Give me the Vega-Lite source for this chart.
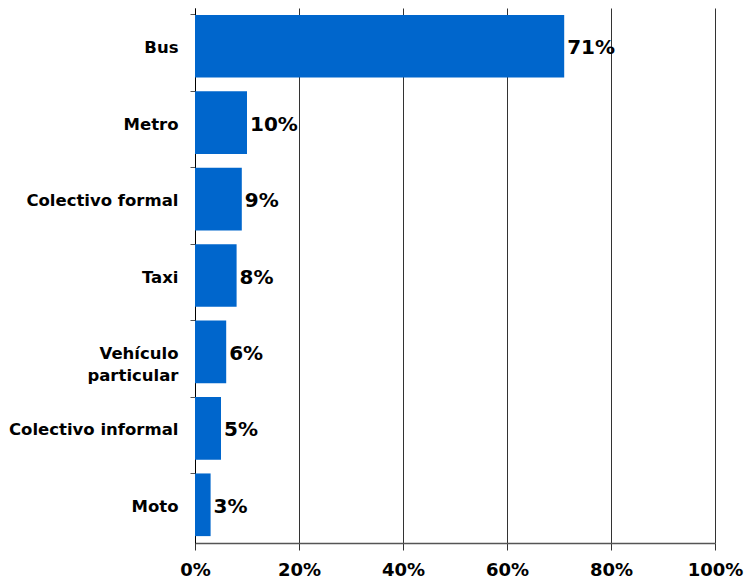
{
  "$schema": "https://vega.github.io/schema/vega-lite/v6.json",
  "autosize": "none",
  "width": 520,
  "height": 535,
  "padding": {"left": 195, "top": 8, "right": 29, "bottom": 39},
  "background": "white",
  "data": {"values": [
    {"modo": "Bus", "pct": 0.71, "label": "71%"},
    {"modo": "Metro", "pct": 0.10, "label": "10%"},
    {"modo": "Colectivo formal", "pct": 0.09, "label": "9%"},
    {"modo": "Taxi", "pct": 0.08, "label": "8%"},
    {"modo": "Vehículo particular", "pct": 0.06, "label": "6%"},
    {"modo": "Colectivo informal", "pct": 0.05, "label": "5%"},
    {"modo": "Moto", "pct": 0.03, "label": "3%"}
  ]},
  "config": {
    "view": {"stroke": null},
    "font": "DejaVu Sans"
  },
  "encoding": {
    "y": {
      "field": "modo", "type": "nominal", "sort": null,
      "scale": {"paddingInner": 0.18, "paddingOuter": 0.09},
      "axis": {
        "title": null,
        "labelFont": "DejaVu Sans", "labelFontWeight": "bold", "labelFontSize": 16.5,
        "labelColor": "#000", "labelPadding": 12, "labelLimit": 300, "labelOffset": 2,
        "labelExpr": "datum.value == 'Vehículo particular' ? ['Vehículo', 'particular'] : (datum.value == 'Bus' || datum.value == 'Taxi') ? datum.value + '  ' : datum.value",
        "labelLineHeight": 22,
        "bandPosition": 0, "tickSize": 5, "tickColor": "#555", "grid": false,
        "domainColor": "#000", "domainWidth": 1
      }
    },
    "x": {
      "field": "pct", "type": "quantitative",
      "scale": {"domain": [0, 1], "nice": false},
      "axis": {
        "title": null, "format": ".0%", "values": [0, 0.2, 0.4, 0.6, 0.8, 1],
        "labelOverlap": false, "labelFlush": false, "labelBound": false,
        "labelFont": "DejaVu Sans", "labelFontWeight": "bold", "labelFontSize": 18,
        "labelColor": "#000", "labelPadding": 11,
        "grid": true, "gridColor": "#333", "gridWidth": 1, "gridOpacity": 1,
        "tickSize": 7, "tickColor": "#333", "domainColor": "#555", "domainWidth": 1.5
      }
    }
  },
  "layer": [
    {"mark": {"type": "bar", "color": "#0066CC"}},
    {
      "mark": {"type": "text", "align": "left", "baseline": "middle", "dx": 3, "dy": 2,
               "font": "DejaVu Sans", "fontWeight": "bold", "fontSize": 20, "color": "#000"},
      "encoding": {"text": {"field": "label"}}
    }
  ]
}
